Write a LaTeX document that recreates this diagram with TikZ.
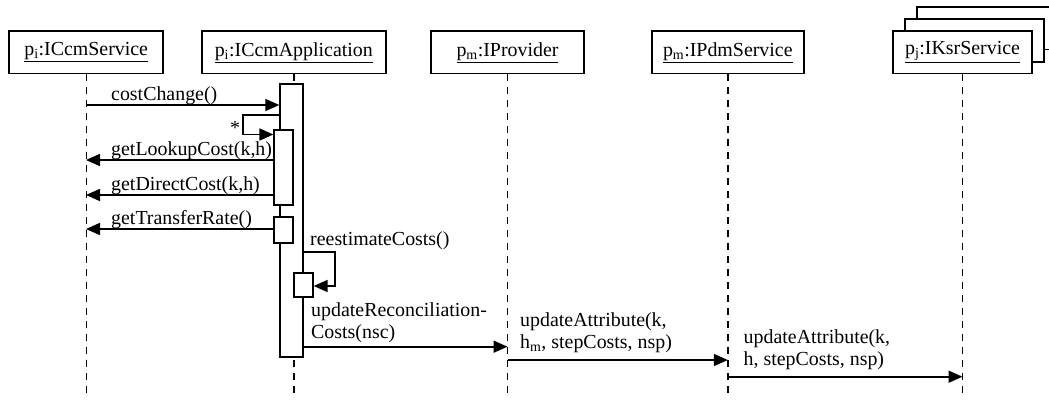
\documentclass[tikz,border=0pt]{standalone}
\usepackage{fontspec}
\setmainfont{Liberation Serif}
\usetikzlibrary{arrows.meta}

\begin{document}
\begin{tikzpicture}[x=1pt, y=-1pt,
    txt/.style={font=\fontsize{19.9}{22}\selectfont},
    obj/.style={txt, draw, line width=1.8pt, fill=white, inner sep=0pt,
        minimum width=#1, minimum height=42.5pt},
    obj/.default=150pt,
    life/.style={line width=1.4pt, dash pattern=on 7pt off 6pt},
    bar/.style={draw, fill=white, line width=1.3pt, inner sep=0pt},
    msg/.style={line width=1.6pt, -{Triangle[length=14pt, width=12pt]}},
    lbl/.style={txt, inner sep=0pt, align=left, anchor=base west}]
    \clip (0,0) rectangle (1049,399);
    \coordinate (bot) at (0,399);
    % objects
    \node[obj=139pt] (ksr3) at (986.5,28.3) {};
    \node[obj=139pt] (ksr2) at (974.5,40.5) {};
    \node[obj=153.7pt] (cs) at (86.2,52.3) {\underline{p\textsubscript{i}:ICcmService}};
    \node[obj=183.7pt] (app) at (293.8,52.3) {\underline{p\textsubscript{i}:ICcmApplication}};
    \node[obj=153pt] (prov) at (507.5,52.3) {\underline{p\textsubscript{m}:IProvider}};
    \node[obj=151.6pt] (pdm) at (727.8,52.3) {\underline{p\textsubscript{m}:IPdmService}};
    \node[obj=139pt] (ksr) at (962.5,52.3) {\underline{p\textsubscript{j}:IKsrService}};
    % lifelines
    \foreach \o in {cs,app,prov,pdm,ksr}
        \draw[life] (\o.south) -- (\o.south |- bot);
    % activations
    \node[bar, minimum width=23pt, minimum height=273pt] (act) at (291.5,220.5) {};
    \node[bar, minimum width=19pt, minimum height=75pt] (n1) at (283.5,167.5) {};
    \node[bar, minimum width=19pt, minimum height=26pt] (n2) at (283.5,230) {};
    \node[bar, minimum width=19pt, minimum height=24pt] (n3) at (303.5,285) {};
    % messages
    \coordinate (c1) at (86,105);
    \draw[msg] (c1) -- (c1 -| act.west);
    \node[lbl] (l1) at (111,100) {costChange()};
    \coordinate (c5) at (243,115);
    \coordinate (c5b) at (243,134.5);
    \draw[msg] (c5 -| act.west) -- (c5) -- (c5b) -- (c5b -| n1.west);
    \node[txt, inner sep=0pt, anchor=base] (star) at (235,134) {*};
    \coordinate (c2) at (86,160);
    \draw[msg] (c2 -| n1.west) -- (c2);
    \node[lbl] (l2) at (111,155) {getLookupCost(k,h)};
    \coordinate (c3) at (86,195);
    \draw[msg] (c3 -| n1.west) -- (c3);
    \node[lbl] (l3) at (111,190.5) {getDirectCost(k,h)};
    \coordinate (c4) at (86,229);
    \draw[msg] (c4 -| n2.west) -- (c4);
    \node[lbl] (l4) at (111,224) {getTransferRate()};
    \coordinate (c6) at (335,252);
    \coordinate (c6b) at (335,286);
    \draw[msg] (c6 -| act.east) -- (c6) -- (c6b) -- (c6b -| n3.east);
    \node[lbl] (l6) at (310,245) {reestimateCosts()};
    \coordinate (c7) at (508,346.7);
    \draw[msg] (act.east |- c7) -- (c7 -| prov);
    \node[lbl] (l7) at (311,338) {updateReconciliation-\\Costs(nsc)};
    \coordinate (c8) at (729,360);
    \draw[msg] (prov |- c8) -- (c8 -| pdm);
    \node[lbl] (l8) at (520,348.3) {updateAttribute(k,\\h\textsubscript{m}, stepCosts, nsp)};
    \coordinate (c9) at (962,376.7);
    \draw[msg] (pdm |- c9) -- (c9 -| ksr);
    \node[lbl] (l9) at (743.5,365) {updateAttribute(k,\\h, stepCosts, nsp)};
\end{tikzpicture}
\end{document}
